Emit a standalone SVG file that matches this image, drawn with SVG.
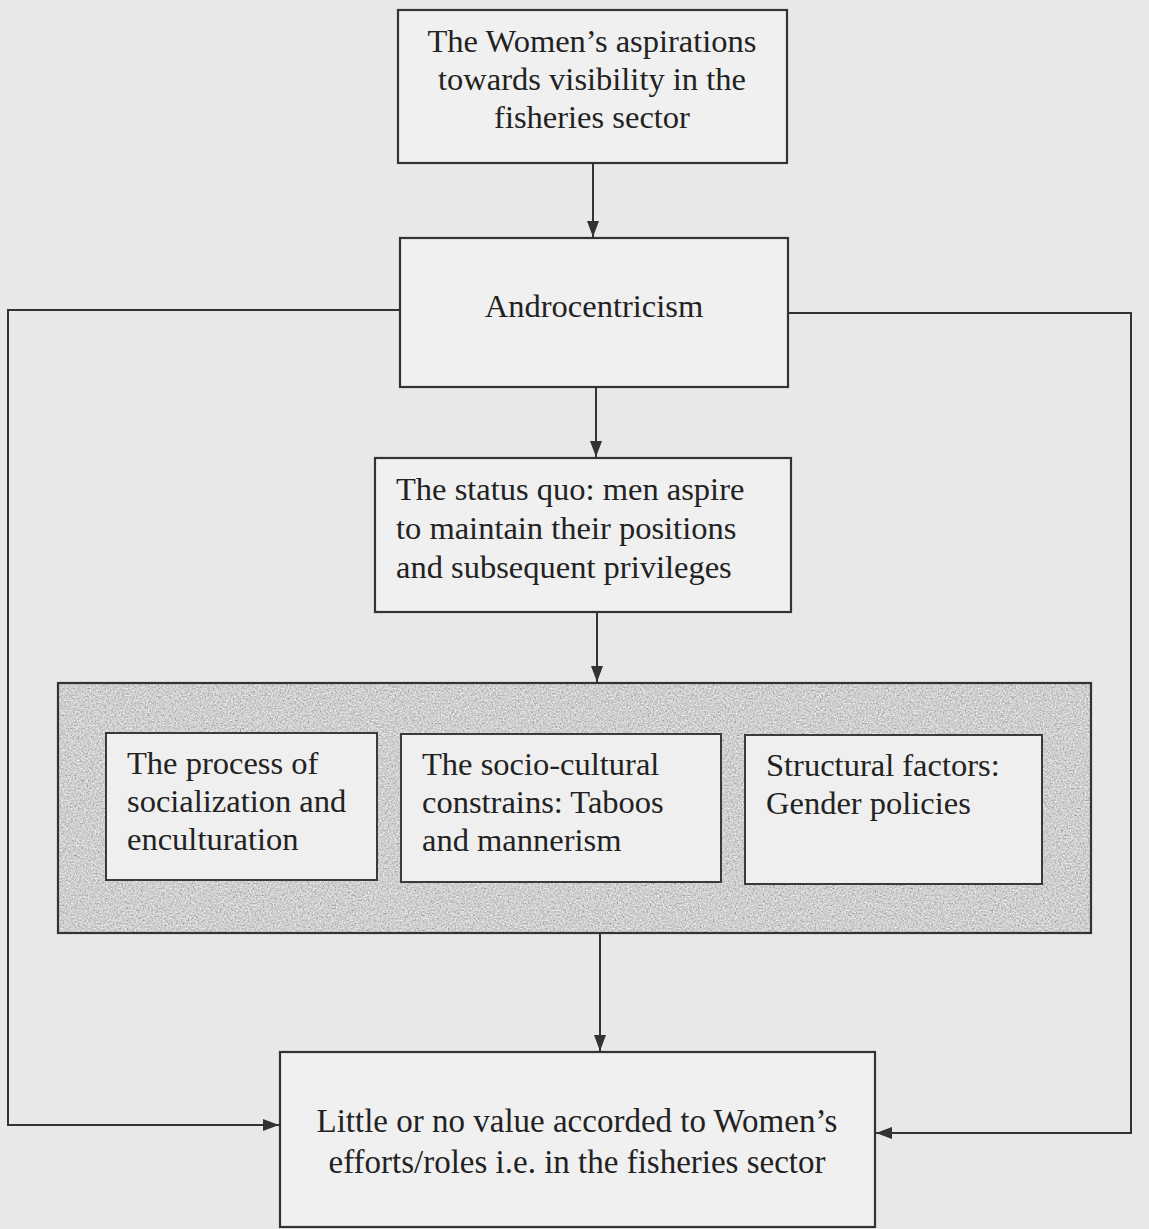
<svg xmlns="http://www.w3.org/2000/svg" width="1149" height="1229" viewBox="0 0 1149 1229">
  <defs>
    <style>
      .box { fill: #f0f0f0; stroke: #333; stroke-width: 2.2; }
      .inner { fill: #efefef; stroke: #3a3a3a; stroke-width: 2; }
      .t { font-family: "Liberation Serif", "Times New Roman", serif; font-size: 32.5px; fill: #222; }
      .big { font-size: 33px; }
      .c { text-anchor: middle; }
      .conn { fill: none; stroke: #333; stroke-width: 2; }
    </style>
    <marker id="arrB" viewBox="0 0 16 12" refX="16" refY="6" markerWidth="16" markerHeight="12" markerUnits="userSpaceOnUse" orient="auto">
      <path d="M0,0 L16,6 L0,12 z" fill="#333"/>
    </marker>
    <filter id="grain" x="0" y="0" width="100%" height="100%">
      <feTurbulence type="fractalNoise" baseFrequency="0.6" numOctaves="3" seed="4" result="n"/>
      <feColorMatrix in="n" type="matrix" values="0.33 0.33 0.33 0 0  0.33 0.33 0.33 0 0  0.33 0.33 0.33 0 0  0 0 0 0 1" result="g"/>
      <feComponentTransfer in="g">
        <feFuncR type="linear" slope="1.3" intercept="-0.02"/>
        <feFuncG type="linear" slope="1.3" intercept="-0.02"/>
        <feFuncB type="linear" slope="1.3" intercept="-0.02"/>
      </feComponentTransfer>
    </filter>
  </defs>

  <rect x="0" y="0" width="1149" height="1229" fill="#e8e8e8"/>

  <g id="connectors">
    <line class="conn" x1="593" y1="163" x2="593" y2="237" marker-end="url(#arrB)"/>
    <line class="conn" x1="596" y1="387" x2="596" y2="457" marker-end="url(#arrB)"/>
    <line class="conn" x1="597" y1="612" x2="597" y2="682" marker-end="url(#arrB)"/>
    <line class="conn" x1="600" y1="933" x2="600" y2="1051" marker-end="url(#arrB)"/>
    <polyline class="conn" points="400,310 8,310 8,1125 279,1125" marker-end="url(#arrB)"/>
    <polyline class="conn" points="788,313 1131,313 1131,1133 876,1133" marker-end="url(#arrB)"/>
  </g>

  <g id="node-aspirations">
    <rect class="box" x="398" y="10" width="389" height="153"/>
    <text class="t c" x="592" y="52">The Women’s aspirations</text>
    <text class="t c" x="592" y="90">towards visibility in the</text>
    <text class="t c" x="592" y="128">fisheries sector</text>
  </g>

  <g id="node-androcentricism">
    <rect class="box" x="400" y="238" width="388" height="149"/>
    <text class="t c" x="594" y="317">Androcentricism</text>
  </g>

  <g id="node-status-quo">
    <rect class="box" x="375" y="458" width="416" height="154"/>
    <text class="t" x="396" y="500">The status quo: men aspire</text>
    <text class="t" x="396" y="539">to maintain their positions</text>
    <text class="t" x="396" y="578">and subsequent privileges</text>
  </g>

  <g id="node-factors">
    <rect x="58" y="683" width="1033" height="250" fill="#a0a0a0" filter="url(#grain)"/>
    <rect x="58" y="683" width="1033" height="250" fill="none" stroke="#333" stroke-width="2.2"/>
  </g>

  <g id="node-socialization">
    <rect class="inner" x="106" y="733" width="271" height="147"/>
    <text class="t" x="127" y="774">The process of</text>
    <text class="t" x="127" y="812">socialization and</text>
    <text class="t" x="127" y="850">enculturation</text>
  </g>

  <g id="node-socio-cultural">
    <rect class="inner" x="401" y="734" width="320" height="148"/>
    <text class="t" x="422" y="775">The socio-cultural</text>
    <text class="t" x="422" y="813">constrains: Taboos</text>
    <text class="t" x="422" y="851">and mannerism</text>
  </g>

  <g id="node-structural">
    <rect class="inner" x="745" y="735" width="297" height="149"/>
    <text class="t" x="766" y="776">Structural factors:</text>
    <text class="t" x="766" y="814">Gender policies</text>
  </g>

  <g id="node-little-value">
    <rect class="box" x="280" y="1052" width="595" height="175"/>
    <text class="t big c" x="577" y="1132">Little or no value accorded to Women’s</text>
    <text class="t big c" x="577" y="1173">efforts/roles i.e. in the fisheries sector</text>
  </g>
</svg>
